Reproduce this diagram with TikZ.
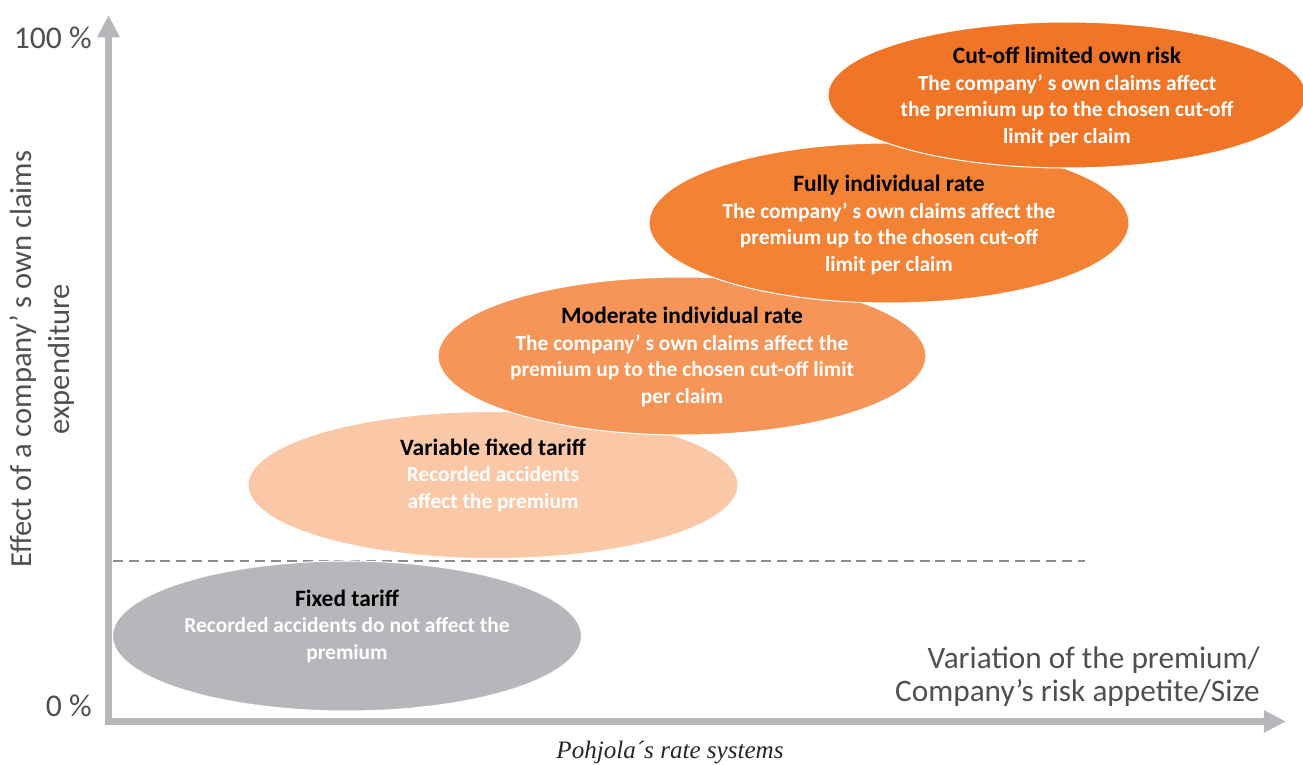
\documentclass[tikz,border=0pt]{standalone}
\usepackage{fontspec}
\setmainfont{Carlito}
\newfontfamily\captionfont{Liberation Serif}
\usetikzlibrary{arrows.meta,shapes.geometric}

\definecolor{axisgrey}{RGB}{181,183,187}
\definecolor{labelgrey}{RGB}{80,80,82}
\definecolor{dashgrey}{RGB}{140,140,140}
\definecolor{fixedfill}{RGB}{181,183,187}
\definecolor{variablefill}{RGB}{250,200,166}
\definecolor{moderatefill}{RGB}{245,150,88}
\definecolor{fullyfill}{RGB}{243,130,52}
\definecolor{cutofffill}{RGB}{241,117,38}

\tikzset{
    plan_oval/.style = {ellipse, draw=white, line width=0.9pt, inner sep=0pt},
    plan_text/.style = {align=center, inner sep=0pt, text=white, font=\fontsize{18.3}{22.6}\selectfont\bfseries},
    axis_line/.style = {axisgrey, line width=5.4pt, {Triangle[width=18pt,length=19pt]}-{Triangle[width=18pt,length=19pt]}},
    axis_label/.style = {align=center, inner sep=0pt, text=labelgrey, font=\fontsize{26.7}{28}\selectfont},
    tick_label/.style = {anchor=east, inner sep=0pt, text=labelgrey, font=\fontsize{27}{27}\selectfont}
}
\newcommand{\plantitle}[1]{\textcolor{black}{\fontsize{20}{22.6}\selectfont #1}}

\begin{document}
\begin{tikzpicture}[x=0.03cm, y=-0.03cm]
    \useasboundingbox (0,0) rectangle (1303,765);

    % axes
    \coordinate (origin) at (108.5,721.5);
    \coordinate (ytip) at (108.5,15);
    \coordinate (xtip) at (1286,721.5);
    \draw[axis_line] (ytip) -- (origin) -- (xtip);

    \node[tick_label] (top_pct) at (92,38) {100 \%};
    \node[tick_label] (zero_pct) at (92,706) {0 \%};

    \node[axis_label, rotate=90, font=\fontsize{26.1}{32.4}\selectfont] (ylab) at (42,359)
        {Effect of a company’ s own claims\\expenditure};
    \node[axis_label, anchor=east, align=right] (xlab) at (1260,677)
        {Variation of the premium/\\Company’s risk appetite/Size};

    % threshold line
    \coordinate (dash_l) at (113,561);
    \coordinate (dash_r) at (1085,561);
    \draw[dashgrey, line width=1.6pt, dash pattern=on 8.5pt off 5pt] (dash_l) -- (dash_r);

    % rate systems, lowest first
    \node[plan_oval, fill=fixedfill, minimum width=469*0.03cm, minimum height=150*0.03cm] (fixed) at (347,636) {};
    \node[plan_text] (fixed_txt) at (347,626)
        {\plantitle{Fixed tariff}\\Recorded accidents do not affect the\\premium};

    \node[plan_oval, fill=variablefill, minimum width=490*0.03cm, minimum height=147*0.03cm] (variable) at (493,485) {};
    \node[plan_text] (variable_txt) at (493,475)
        {\plantitle{Variable fixed tariff}\\Recorded accidents\\affect the premium};

    \node[plan_oval, fill=moderatefill, minimum width=488*0.03cm, minimum height=158*0.03cm] (moderate) at (682,356) {};
    \node[plan_text] (moderate_txt) at (682,357)
        {\plantitle{Moderate individual rate}\\The company’ s own claims affect the\\premium up to the chosen cut-off limit\\per claim};

    \node[plan_oval, fill=fullyfill, minimum width=480*0.03cm, minimum height=160*0.03cm] (fully) at (889,223) {};
    \node[plan_text] (fully_txt) at (889,225)
        {\plantitle{Fully individual rate}\\The company’ s own claims affect the\\premium up to the chosen cut-off\\limit per claim};

    \node[plan_oval, fill=cutofffill, minimum width=478*0.03cm, minimum height=146*0.03cm] (cutoff) at (1067,95) {};
    \node[plan_text] (cutoff_txt) at (1067,97)
        {\plantitle{Cut-off limited own risk}\\The company’ s own claims affect\\the premium up to the chosen cut-off\\limit per claim};

    % caption
    \node[inner sep=0pt, text=black!85, font=\captionfont\itshape\fontsize{21.4}{21.4}\selectfont] (caption) at (670,752)
        {Pohjola´s rate systems};
\end{tikzpicture}
\end{document}
